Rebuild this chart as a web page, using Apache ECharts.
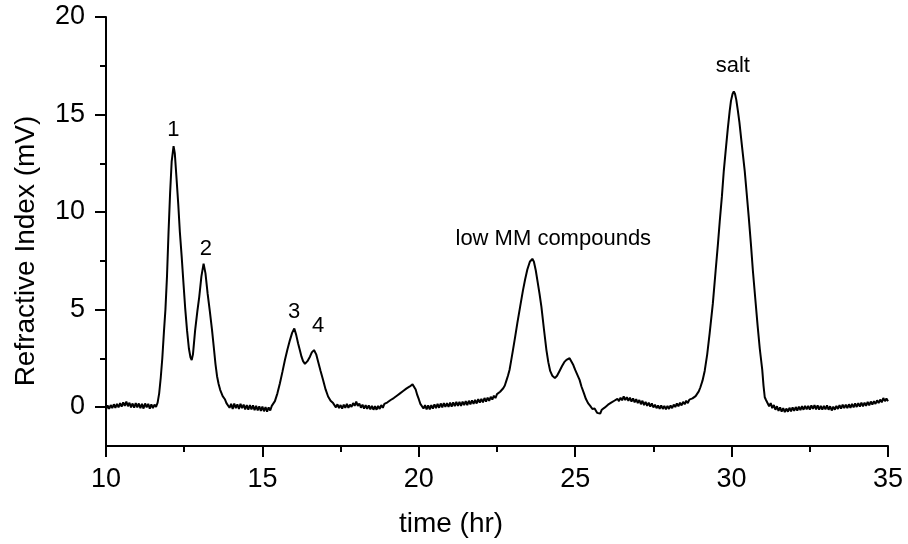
<!DOCTYPE html>
<html>
<head>
<meta charset="utf-8">
<script src="https://cdn.jsdelivr.net/npm/echarts@6/dist/echarts.min.js"></script>
<style>html,body{margin:0;padding:0;background:#fff}#chart{width:908px;height:544px}</style>
</head>
<body>
<div id="chart"></div>
<script>
// time (hr), refractive index signal (mV)
var refractiveIndex = [
[10.0,-0.14],[10.05,0.08],[10.1,-0.1],[10.15,0.1],[10.2,-0.06],[10.25,0.14],[10.3,-0.04],[10.35,0.16],[10.4,-0.02],[10.45,0.2],[10.5,0.02],[10.55,0.24],[10.6,0.06],[10.65,0.28],[10.7,0.04],[10.75,0.22],[10.8,-0.02],[10.85,0.18],[10.9,-0.04],[10.95,0.2],[11.0,-0.02],[11.05,0.18],[11.1,-0.06],[11.15,0.16],[11.2,-0.08],[11.25,0.18],[11.3,-0.02],[11.35,0.16],[11.4,-0.08],[11.45,0.14],[11.5,-0.06],[11.55,0.12],[11.6,0.0],[11.65,0.22],
[11.70,0.7],[11.75,1.5],[11.80,2.5],[11.85,3.8],[11.90,5.0],[11.95,6.7],[12.00,9.0],[12.05,11.0],[12.10,12.6],[12.16,13.38],[12.20,13.0],[12.26,11.6],[12.31,10.4],[12.36,9.0],[12.42,7.7],[12.47,6.5],[12.53,5.1],[12.59,3.94],[12.65,3.0],[12.70,2.55],[12.74,2.41],[12.78,2.7],[12.85,3.94],[12.92,4.9],[12.98,5.64],[13.05,6.7],[13.12,7.35],[13.18,6.85],[13.25,5.8],[13.32,4.9],[13.39,3.94],[13.45,3.0],[13.5,2.2],[13.55,1.58],[13.60,1.18],[13.65,0.88],[13.73,0.56],
[13.8,0.4],[13.85,0.2],[13.9,0.24],[13.95,-0.04],[14.0,0.16],[14.05,-0.1],[14.1,0.18],[14.15,-0.06],[14.2,0.14],[14.25,-0.1],[14.3,0.16],[14.35,-0.06],[14.4,0.12],[14.45,-0.12],[14.5,0.1],[14.55,-0.14],[14.6,0.1],[14.65,-0.12],[14.7,0.08],[14.75,-0.16],[14.8,0.06],[14.85,-0.18],[14.9,0.04],[14.95,-0.2],[15.0,0.02],[15.05,-0.22],[15.1,0.0],[15.15,-0.24],[15.2,-0.02],[15.25,-0.18],[15.3,0.06],[15.35,0.08],
[15.4,0.3],[15.48,0.7],[15.56,1.22],[15.64,1.8],[15.72,2.41],[15.8,2.95],[15.88,3.43],[15.95,3.8],[16.02,4.03],[16.08,3.7],[16.14,3.27],[16.2,2.9],[16.25,2.58],[16.3,2.35],[16.36,2.21],[16.44,2.35],[16.52,2.58],[16.58,2.8],[16.65,2.92],[16.72,2.7],[16.78,2.33],[16.86,1.85],[16.94,1.39],[17.02,0.9],[17.1,0.54],[17.18,0.32],[17.26,0.2],
[17.3,0.12],[17.35,-0.02],[17.4,0.14],[17.45,-0.06],[17.5,0.1],[17.55,-0.08],[17.6,0.12],[17.65,-0.04],[17.7,0.16],[17.75,-0.04],[17.8,0.12],[17.85,0.0],[17.9,0.2],[17.95,0.06],[18.0,0.28],[18.05,0.06],[18.1,0.18],[18.15,-0.04],[18.2,0.12],[18.25,-0.08],[18.3,0.1],[18.35,-0.1],[18.4,0.08],[18.45,-0.12],[18.5,0.06],[18.55,-0.14],[18.6,0.04],[18.65,-0.14],[18.7,0.06],[18.75,-0.1],[18.8,0.1],[18.85,-0.04],[18.9,0.16],[18.95,0.06],[19.0,0.24],[19.05,0.18],[19.1,0.36],[19.15,0.28],[19.2,0.46],[19.25,0.4],[19.3,0.58],[19.35,0.52],[19.4,0.7],[19.45,0.64],[19.5,0.82],[19.55,0.76],[19.6,0.94],[19.65,0.9],[19.7,1.04],[19.75,1.0],[19.8,1.16],[19.85,1.12],[19.9,0.9],[19.95,0.62],[20.0,0.4],[20.05,0.16],[20.1,0.12],[20.15,-0.08],[20.2,0.1],[20.25,-0.12],[20.3,0.08],[20.35,-0.12],[20.4,0.1],[20.45,-0.08],[20.5,0.14],[20.55,-0.06],[20.6,0.16],[20.65,-0.04],[20.7,0.18],[20.75,-0.02],[20.8,0.2],[20.85,0.0],[20.9,0.2],[20.95,0.0],[21.0,0.22],[21.05,0.02],[21.1,0.24],[21.15,0.04],[21.2,0.26],[21.25,0.06],[21.3,0.26],[21.35,0.06],[21.4,0.28],[21.45,0.1],[21.5,0.3],[21.55,0.1],[21.6,0.32],[21.65,0.14],[21.7,0.34],[21.75,0.16],[21.8,0.36],[21.85,0.18],[21.9,0.4],[21.95,0.22],[22.0,0.42],[22.05,0.24],[22.1,0.46],[22.15,0.28],[22.2,0.48],[22.25,0.32],[22.3,0.52],[22.35,0.38],[22.4,0.58],[22.45,0.46],[22.5,0.66],[22.55,0.56],[22.6,0.78],[22.65,0.76],[22.7,0.96],[22.75,1.1],[22.8,1.35],[22.85,1.6],[22.9,1.9],[22.95,2.35],[23.01,2.92],
[23.08,3.6],[23.15,4.3],[23.24,5.15],[23.33,5.98],[23.4,6.55],[23.47,7.05],[23.55,7.45],[23.63,7.6],[23.68,7.45],[23.74,7.0],[23.8,6.4],[23.86,5.8],[23.92,5.13],[24.0,4.0],[24.08,2.92],[24.14,2.3],[24.2,1.85],[24.27,1.6],[24.35,1.48],[24.42,1.6],[24.5,1.85],[24.58,2.1],[24.65,2.3],[24.72,2.42],[24.78,2.52],[24.82,2.5],[24.88,2.4],[24.94,2.15],[25.0,1.9],[25.07,1.65],[25.14,1.39],[25.2,1.05],[25.28,0.7],[25.34,0.42],[25.41,0.2],
[25.48,0.06],[25.55,-0.1],[25.62,-0.08],[25.7,-0.3],[25.75,-0.2],[25.8,-0.34],[25.85,-0.14],[25.9,-0.2],[25.95,-0.02],[26.0,-0.06],[26.05,0.12],[26.1,0.04],[26.15,0.22],[26.2,0.14],[26.25,0.32],[26.3,0.22],[26.35,0.42],[26.4,0.3],[26.45,0.48],[26.5,0.34],[26.55,0.54],[26.6,0.36],[26.65,0.5],[26.7,0.32],[26.75,0.48],[26.8,0.28],[26.85,0.44],[26.9,0.24],[26.95,0.4],[27.0,0.2],[27.05,0.36],[27.1,0.14],[27.15,0.32],[27.2,0.1],[27.25,0.26],[27.3,0.06],[27.35,0.22],[27.4,0.02],[27.45,0.18],[27.5,-0.02],[27.55,0.12],[27.6,-0.06],[27.65,0.08],[27.7,-0.1],[27.75,0.08],[27.8,-0.1],[27.85,0.06],[27.9,-0.12],[27.95,0.06],[28.0,-0.1],[28.05,0.08],[28.1,-0.06],[28.15,0.12],[28.2,0.0],[28.25,0.18],[28.3,0.04],[28.35,0.22],[28.4,0.08],[28.45,0.26],[28.5,0.14],[28.55,0.32],[28.6,0.2],[28.65,0.38],[28.7,0.28],[28.75,0.44],[28.8,0.4],[28.85,0.56],[28.9,0.6],[28.95,0.8],[29.0,1.0],[29.07,1.35],[29.14,1.85],
[29.22,2.7],[29.3,3.8],[29.4,5.3],[29.49,7.0],[29.56,8.3],[29.62,9.5],[29.69,10.8],[29.75,12.1],[29.82,13.3],[29.88,14.3],[29.94,15.2],[29.98,15.7],[30.03,16.05],[30.07,16.19],[30.11,16.05],[30.15,15.75],[30.2,15.2],[30.25,14.6],[30.33,13.4],[30.42,12.1],[30.48,11.0],[30.55,9.7],[30.62,8.3],[30.68,7.0],[30.76,5.5],[30.83,4.2],[30.9,3.0],[30.98,1.9],[31.02,1.1],[31.06,0.5],[31.1,0.36],
[31.15,0.3],[31.2,0.04],[31.25,0.2],[31.3,-0.06],[31.35,0.1],[31.4,-0.14],[31.45,0.04],[31.5,-0.2],[31.55,-0.02],[31.6,-0.24],[31.65,-0.06],[31.7,-0.26],[31.75,-0.08],[31.8,-0.24],[31.85,-0.04],[31.9,-0.22],[31.95,-0.02],[32.0,-0.2],[32.05,0.0],[32.1,-0.18],[32.15,0.02],[32.2,-0.16],[32.25,0.04],[32.3,-0.14],[32.35,0.06],[32.4,-0.12],[32.45,0.06],[32.5,-0.14],[32.55,0.08],[32.6,-0.1],[32.65,0.1],[32.7,-0.12],[32.75,0.08],[32.8,-0.14],[32.85,0.06],[32.9,-0.14],[32.95,0.06],[33.0,-0.12],[33.05,0.08],[33.1,-0.14],[33.15,0.04],[33.2,-0.18],[33.25,0.02],[33.3,-0.14],[33.35,0.06],[33.4,-0.1],[33.45,0.1],[33.5,-0.08],[33.55,0.12],[33.6,-0.06],[33.65,0.12],[33.7,-0.06],[33.75,0.14],[33.8,-0.04],[33.85,0.16],[33.9,-0.02],[33.95,0.18],[34.0,0.0],[34.05,0.2],[34.1,0.02],[34.15,0.22],[34.2,0.04],[34.25,0.22],[34.3,0.06],[34.35,0.26],[34.4,0.08],[34.45,0.28],[34.5,0.12],[34.55,0.3],[34.6,0.16],[34.65,0.34],[34.7,0.2],[34.75,0.38],[34.8,0.24],[34.85,0.46],[34.9,0.3],[34.95,0.44],[35.0,0.3]
];

// peak annotations: [time, signal, text]
var peakLabels = [
  [12.15, 14.23, '1'],
  [13.19, 8.11, '2'],
  [16.01, 4.88, '3'],
  [16.78, 4.15, '4'],
  [24.30, 8.62, 'low MM compounds'],
  [30.04, 17.47, 'salt']
];

var yMajorTicks = [0, 5, 10, 15, 20];
var yMinorTicks = [2.5, 7.5, 12.5, 17.5];

var FONT = '"Liberation Sans", Arial, sans-serif';
var chart = echarts.init(document.getElementById('chart'), null, {renderer: 'canvas'});
chart.setOption({
  animation: false,
  backgroundColor: '#fff',
  grid: {left: 106, right: 20, top: 17, bottom: 98, containLabel: false},
  xAxis: {
    type: 'value', min: 10, max: 35, interval: 5,
    name: 'time (hr)', nameLocation: 'middle', nameGap: 64,
    nameTextStyle: {fontFamily: FONT, fontSize: 28, color: '#000', padding: [0, 92, 0, 0]},
    axisLine: {show: true, onZero: false, lineStyle: {color: '#000', width: 2}},
    axisTick: {show: true, inside: false, length: 11, lineStyle: {color: '#000', width: 2}},
    minorTick: {show: true, splitNumber: 2, length: 6, lineStyle: {color: '#000', width: 2}},
    axisLabel: {fontFamily: FONT, fontSize: 27, color: '#000', margin: 20},
    splitLine: {show: false}
  },
  yAxis: [{
    type: 'value', min: -2, max: 20,
    name: 'Refractive Index (mV)', nameLocation: 'middle', nameGap: 66,
    nameTextStyle: {fontFamily: FONT, fontSize: 28, color: '#000', padding: [0, 39, 0, 0]},
    axisLine: {show: true, onZero: false, lineStyle: {color: '#000', width: 2}},
    axisTick: {show: true, inside: false, length: 11, customValues: yMajorTicks, lineStyle: {color: '#000', width: 2}},
    axisLabel: {fontFamily: FONT, fontSize: 27, color: '#000', margin: 21, customValues: yMajorTicks},
    splitLine: {show: false}
  }, {
    type: 'value', min: -2, max: 20, position: 'left',
    axisLine: {show: false},
    axisTick: {show: true, inside: false, length: 6, customValues: yMinorTicks, lineStyle: {color: '#000', width: 2}},
    axisLabel: {show: false},
    splitLine: {show: false}
  }],
  series: [{
    type: 'line',
    data: refractiveIndex,
    showSymbol: false,
    symbol: 'none',
    smooth: false,
    sampling: null,
    lineStyle: {color: '#000', width: 2},
    clip: true
  }, {
    type: 'scatter',
    data: peakLabels.map(function (p) { return {value: [p[0], p[1]], name: p[2]}; }),
    symbolSize: 0,
    silent: true,
    itemStyle: {color: '#000', opacity: 1},
    label: {
      show: true, position: 'inside', opacity: 1,
      formatter: function (p) { return p.name; },
      fontFamily: FONT, fontSize: 22, color: '#000', textBorderWidth: 0
    }
  }]
});
</script>
</body>
</html>
